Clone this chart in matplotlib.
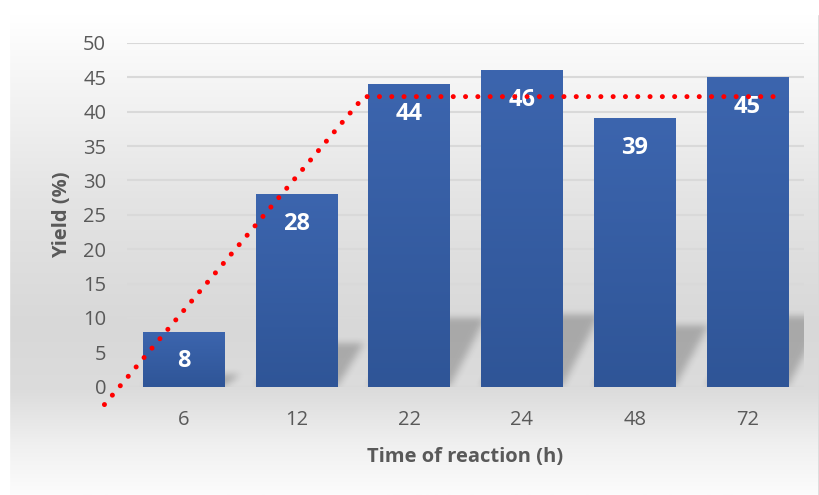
import numpy as np
import matplotlib
matplotlib.use("Agg")
import matplotlib.pyplot as plt
from matplotlib.colors import LinearSegmentedColormap
from matplotlib.patches import Rectangle

# datos del grafico
categories = ["6", "12", "22", "24", "48", "72"]
yields = [8, 28, 44, 46, 39, 45]

# linea punteada roja (tendencia dibujada a mano en el original)
trend_x = [-0.70, 1.60, 5.30]
trend_y = [-2.6, 42.2, 42.2]

plt.rcParams['font.family'] = ['Open Sans', 'DejaVu Sans']
gray_txt = '#595959'

fig = plt.figure(figsize=(8.2, 4.95), dpi=100)

# fondo con degradado vertical
bg = fig.add_axes([0, 0, 1, 1], zorder=-5)
bg.set_axis_off()
stops = [(0.0, '#ffffff'), (0.03, '#ffffff'), (0.40, '#e4e4e4'), (0.66, '#d8d8d8'),
         (0.79, '#dcdcdc'), (0.90, '#f0f0f0'), (1.0, '#fcfcfc')]
bg_cmap = LinearSegmentedColormap.from_list('bg', stops)
grad = np.linspace(0, 1, 256).reshape(-1, 1)
bg.imshow(grad, cmap=bg_cmap, aspect='auto', extent=[0, 1, 0, 1], origin='upper')
bg.set_xlim(0, 1)
bg.set_ylim(0, 1)
# borde del area del grafico
bg.add_patch(Rectangle((9 / 820, -0.01), 810 / 820, 1 - 14 / 495 + 0.01,
                       fill=False, edgecolor='#d9d9d9', linewidth=1.2))
# zona blanca fuera del borde
bg.add_patch(Rectangle((0, 1 - 14 / 495), 1, 14 / 495, color='white', zorder=3))
bg.add_patch(Rectangle((0, 0), 9 / 820, 1, color='white', zorder=3))

ax = fig.add_axes([127 / 820, 1 - 386.7 / 495, 677 / 820, (386.7 - 43) / 495])
ax.set_facecolor('none')

xpos = np.arange(len(categories))
width = 0.72

# sombras de las barras (paralelogramos difuminados)
gx = np.linspace(-0.5, 5.6, 700)
gy = np.linspace(0, 16, 130)
GX, GY = np.meshgrid(gx, gy)
mask = np.zeros_like(GX)
for i, v in enumerate(yields):
    hs = 0.23 * v
    dx = 0.10 + 0.005 * v
    t = GY / hs
    left = xpos[i] - width / 2 + dx * t
    right = xpos[i] + width / 2 + dx * t
    inside = (GY <= hs) & (GX >= left) & (GX <= right)
    mask[inside] = 1.0
k = np.ones(9) / 9.0
for _ in range(2):
    mask = np.apply_along_axis(lambda r: np.convolve(r, k, mode='same'), 1, mask)
    mask = np.apply_along_axis(lambda c: np.convolve(c, k, mode='same'), 0, mask)
shadow = np.zeros(mask.shape + (4,))
shadow[..., 3] = mask * 0.22
ax.imshow(shadow, extent=[gx[0], gx[-1], gy[0], gy[-1]], origin='lower',
          aspect='auto', zorder=1, interpolation='bilinear')

# barras con degradado (oscuro abajo, claro arriba)
bar_cmap = LinearSegmentedColormap.from_list('bar', ['#2f5597', '#3c65ae'])
for i, v in enumerate(yields):
    ax.imshow(grad, cmap=bar_cmap, aspect='auto', zorder=2,
              extent=[xpos[i] - width / 2, xpos[i] + width / 2, 0, v], origin='lower')
    ax.text(xpos[i], v - 4.3, str(v), ha='center', va='center', color='white',
            fontsize=17, fontweight='bold', zorder=4)

ax.plot(trend_x, trend_y, color='#ff0000', linewidth=3.6, linestyle=(0, (0.01, 2.45)),
        dash_capstyle='round', clip_on=False, zorder=5)

ax.set_xlim(-0.5, 5.5)
ax.set_ylim(0, 50)
ax.set_yticks(np.arange(0, 51, 5))
ax.set_xticks(xpos)
ax.set_xticklabels(categories)
ax.yaxis.grid(True, color='#d9d9d9', linewidth=1.5, zorder=0)
ax.set_axisbelow(True)
for s in ax.spines.values():
    s.set_visible(False)
ax.tick_params(length=0, labelsize=14.5, labelcolor=gray_txt)
ax.tick_params(axis='x', pad=17)
ax.tick_params(axis='y', pad=15)
ax.set_xlabel('Time of reaction (h)', fontsize=14.5, fontweight='bold', color=gray_txt, labelpad=12)
ax.set_ylabel('Yield (%)', fontsize=14.5, fontweight='bold', color=gray_txt, labelpad=8)

fig.savefig('out.png', dpi=100)
